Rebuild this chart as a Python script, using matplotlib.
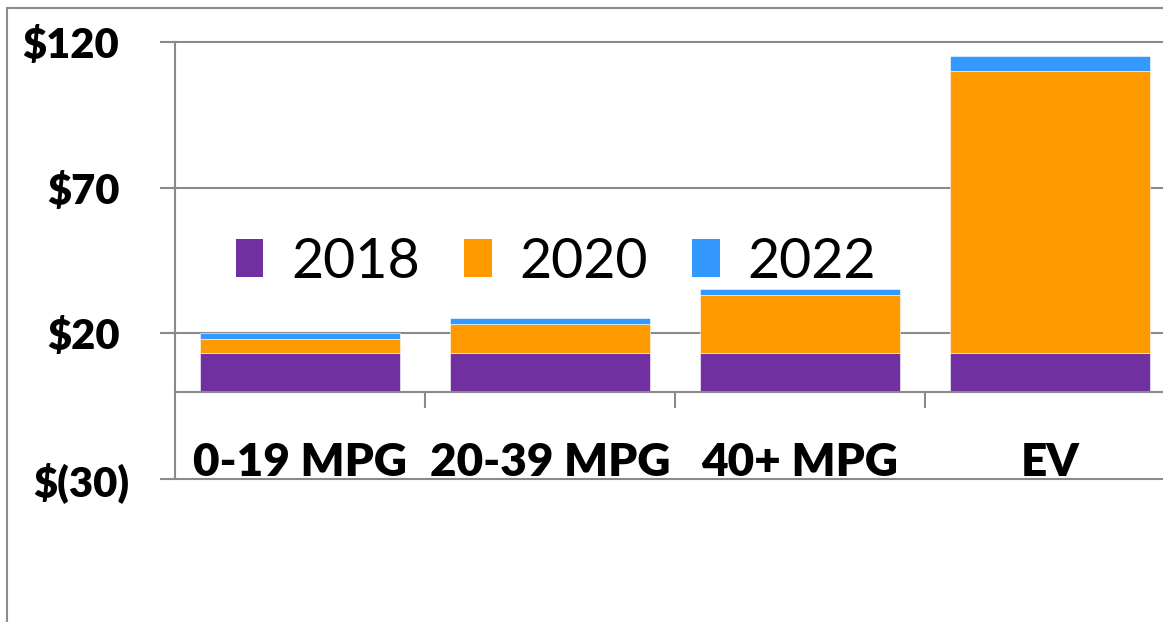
import matplotlib
matplotlib.use("Agg")
import matplotlib.pyplot as plt
from matplotlib.patches import Rectangle
from matplotlib.transforms import ScaledTranslation
import numpy as np

categories = ["0-19 MPG", "20-39 MPG", "40+ MPG", "EV"]
series_names = ["2018", "2020", "2022"]
v2018 = [13.2, 13.2, 13.2, 13.2]
v2020 = [4.9, 10.1, 20.0, 97.0]
v2022 = [2.0, 2.0, 2.0, 5.1]
colors = ["#7030A0", "#FF9900", "#3399FF"]
yticks = [-30, 20, 70, 120]
ytick_labels = ["$(30)", "$20", "$70", "$120"]

plt.rcParams['font.family'] = ['Lato', 'DejaVu Sans']
W, H = 1163, 622
fig = plt.figure(figsize=(W / 100, H / 100), dpi=100)
ax = fig.add_axes([175 / W, 1 - 479 / H, 1000 / W, 436.5 / H])

x = np.arange(len(categories))
bottom = np.zeros(len(categories))
for name, vals, c in zip(series_names, [v2018, v2020, v2022], colors):
    ax.bar(x, vals, width=0.8, bottom=bottom, color=c, label=name,
           edgecolor='white', linewidth=0.4, zorder=3)
    bottom = bottom + np.array(vals)

ax.set_xlim(-0.5, len(categories) - 0.5)
ax.set_ylim(-30, 120)

gray = "#8a8a8a"
ax.set_yticks(yticks)
ax.set_yticklabels(ytick_labels, fontsize=30, fontweight='heavy')
ax.tick_params(axis='y', direction='out', length=11, width=1.5, color=gray, pad=29)
ax.yaxis.grid(True, color=gray, linewidth=1.5, zorder=0)
for gl in ax.get_ygridlines():
    gl.set_clip_on(False)
# negative value label extends past the alignment column by its ")"
ax.get_yticklabels()[0].set_transform(
    ax.get_yticklabels()[0].get_transform() + ScaledTranslation(10 / 100, 0, fig.dpi_scale_trans))

ax.spines['top'].set_visible(False)
ax.spines['right'].set_visible(False)
ax.spines['left'].set_color(gray)
ax.spines['left'].set_linewidth(1.5)
ax.spines['bottom'].set_position(('data', 0))
ax.spines['bottom'].set_color(gray)
ax.spines['bottom'].set_linewidth(1.5)
ax.spines['bottom'].set_zorder(4)

ax.set_xticks(x)
ax.set_xticklabels(categories, fontsize=33, fontweight='heavy')
ax.tick_params(axis='x', which='major', length=0, pad=36)
ax.set_xticks(np.arange(len(categories) - 1) + 0.5, minor=True)
ax.tick_params(axis='x', which='minor', direction='out', length=11.5, width=1.5, color=gray)

leg = ax.legend(loc='center', bbox_to_anchor=(556 / W, 1 - 262 / H),
                bbox_transform=fig.transFigure, ncol=3, frameon=False,
                fontsize=40, handlelength=0.49, handleheight=0.65,
                handletextpad=0.5, columnspacing=0.8, borderpad=0)
for p in leg.get_patches():
    p.set_edgecolor('none')

fig.add_artist(Rectangle((7 / W, -0.1), 2, 1 - 8 / H + 0.1, transform=fig.transFigure,
                         fill=False, edgecolor="#8c8c8c", linewidth=1.5))

fig.savefig("out.png", dpi=100)
